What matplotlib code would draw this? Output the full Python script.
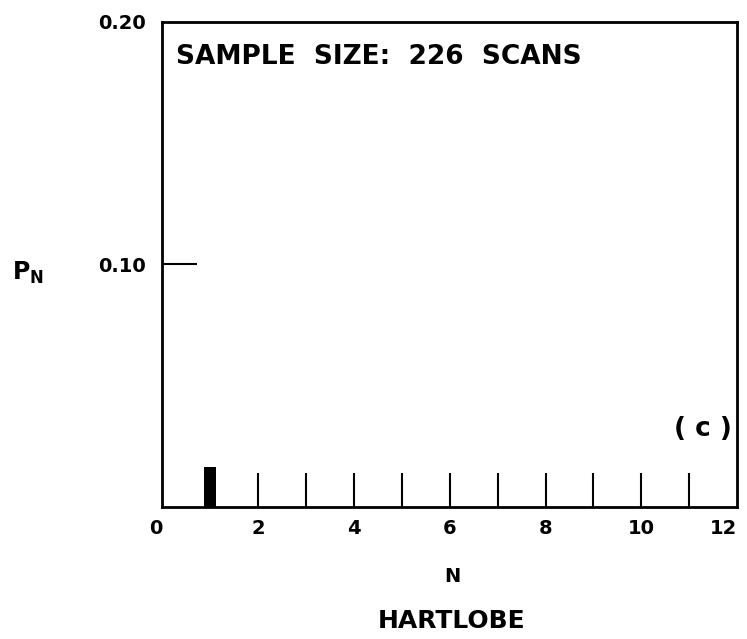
import matplotlib

matplotlib.use("Agg")
import matplotlib.pyplot as plt
import numpy as np

# data
n_values = [1]
p_values = [0.0165]
x_ticks = list(range(0, 13))
x_tick_labels = ["0", "", "2", "", "4", "", "6", "", "8", "", "10", "", "12"]
y_ticks = [0.10, 0.20]
y_tick_labels = ["0.10", "0.20"]
sample_text = "SAMPLE  SIZE:  226  SCANS"
panel_tag = "( c )"
x_label = "N"
caption = "HARTLOBE"

plt.rcParams["font.family"] = ["DejaVu Sans"]
plt.rcParams["font.weight"] = "bold"

fig = plt.figure(figsize=(7.47, 6.39), dpi=100)
ax = fig.add_axes([0.217, 0.207, 0.770, 0.759])

ax.bar(n_values, p_values, width=0.24, color="black", zorder=3)

ax.set_xlim(0, 12)
ax.set_ylim(0, 0.20)

# tick marks at every integer drawn inward, labels only on even N
ax.set_xticks(x_ticks)
ax.set_xticklabels(x_tick_labels, fontsize=14, fontweight="bold")
ax.tick_params(axis="x", direction="in", length=24.5, width=1.5, pad=9)
for t in ax.xaxis.get_major_ticks():
    if t.get_loc() in (0, 12):
        t.tick1line.set_visible(False)
lbls = ax.get_xticklabels()
lbls[0].set_ha("right")
lbls[-1].set_ha("right")

ax.set_yticks(y_ticks)
ax.set_yticklabels(y_tick_labels, fontsize=14, fontweight="bold")
ax.tick_params(axis="y", direction="in", length=25, width=1.5, pad=12)
ax.yaxis.get_major_ticks()[1].tick1line.set_visible(False)

for s in ax.spines.values():
    s.set_linewidth(2)

ax.text(0.025, 0.955, sample_text, transform=ax.transAxes, fontsize=19,
        ha="left", va="top")
ax.text(0.99, 0.16, panel_tag, transform=ax.transAxes, fontsize=19,
        ha="right", va="center")

fig.text(0.038, 0.573, "P$_\\mathregular{N}$", fontsize=17, ha="center", va="center")
fig.text(0.605, 0.098, x_label, fontsize=14, ha="center", va="center")
fig.text(0.605, 0.028, caption, fontsize=18, ha="center", va="center")

fig.savefig("out.png", dpi=100)
